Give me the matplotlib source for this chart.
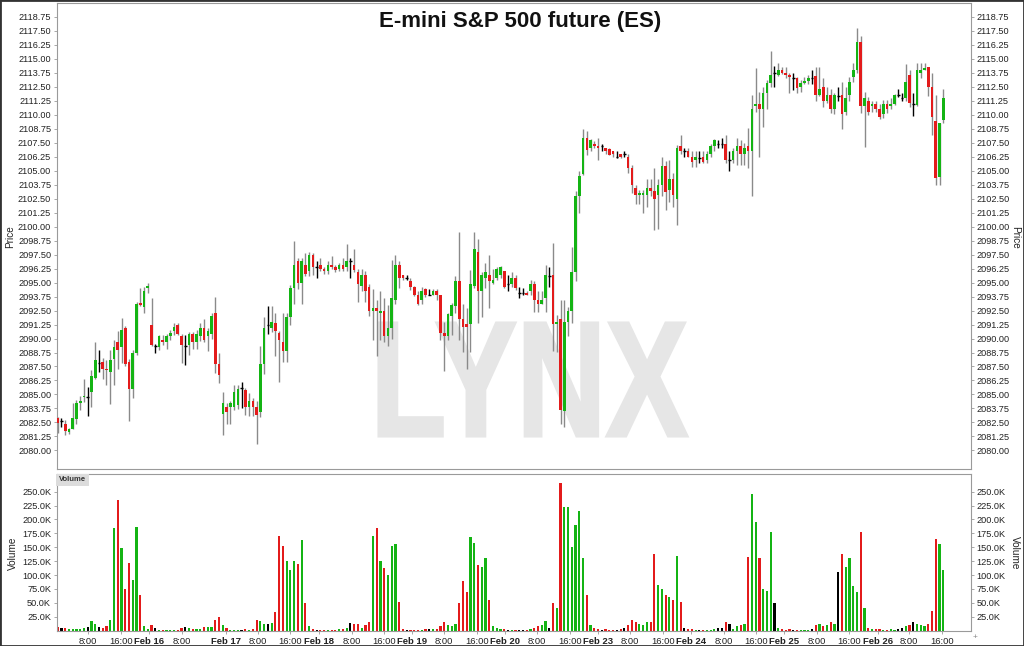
import matplotlib
matplotlib.use('Agg')
import matplotlib.pyplot as plt
import numpy as np
from matplotlib.patches import Rectangle, PathPatch
from matplotlib.textpath import TextPath
from matplotlib.font_manager import FontProperties
from matplotlib.transforms import Affine2D
from matplotlib.ticker import FuncFormatter, FixedLocator

plt.rcParams['font.family'] = ['Liberation Sans', 'DejaVu Sans']

# ---------------- data (hourly bars) ----------------
opens = [
    2082.9, 2082.6, 2082.4, 2081.65, 2081.9, 2082.8, 2084.2, 2084.75, 2084.8, 2085.2,
    2086.45, 2087.85, 2087.9, 2087.3, 2087.0, 2088.2, 2089.7, 2089.2, 2090.9, 2087.9,
    2085.5, 2088.75, 2093.15, 2092.8, 2094.5, 2091.2, 2089.3, 2089.2, 2089.9, 2089.7,
    2090.2, 2090.7, 2091.2, 2090.2, 2089.3, 2089.4, 2090.4, 2089.7, 2090.2, 2090.9,
    2090.2, 2090.4, 2092.25, 2087.7, 2083.3, 2083.9, 2083.9, 2083.9, 2084.05, 2085.6,
    2085.4, 2083.9, 2084.4, 2083.9, 2083.4, 2087.7, 2091.2, 2090.9, 2091.4, 2090.5,
    2089.7, 2088.9, 2091.95, 2094.5, 2096.9, 2095.0, 2096.6, 2096.0, 2097.45, 2096.4,
    2096.6, 2096.2, 2096.0, 2096.6, 2096.4, 2096.2, 2096.6, 2096.4, 2096.9, 2096.6,
    2095.9, 2094.7, 2095.7, 2094.6, 2092.45, 2092.7, 2092.25, 2092.45, 2090.25, 2090.9,
    2093.4, 2096.6, 2095.7, 2095.4, 2095.1, 2094.6, 2093.9, 2093.4, 2094.4, 2093.9,
    2093.9, 2094.2, 2093.9, 2090.45, 2090.25, 2092.0, 2092.9, 2095.1, 2091.7, 2091.3,
    2091.3, 2094.7, 2097.7, 2094.2, 2095.4, 2095.7, 2095.0, 2095.4, 2095.7, 2096.0,
    2094.9, 2094.9, 2095.4, 2094.1, 2094.1, 2094.1, 2094.2, 2094.9, 2093.4, 2093.1,
    2093.65, 2095.6, 2095.7, 2091.3, 2091.75, 2083.5, 2091.45, 2092.5, 2095.97, 2102.7,
    2104.7, 2107.9, 2107.0, 2107.4, 2107.2, 2107.2, 2106.98, 2106.9, 2106.75, 2106.2,
    2106.45, 2106.45, 2106.2, 2105.25, 2103.4, 2102.8, 2102.8, 2102.8, 2103.4, 2103.2,
    2102.8, 2103.7, 2105.4, 2103.3, 2104.25, 2102.5, 2107.2, 2106.75, 2106.75, 2106.2,
    2105.95, 2106.15, 2106.25, 2105.95, 2106.45, 2107.2, 2107.4, 2107.4, 2107.4, 2105.95,
    2105.95, 2106.75, 2107.2, 2106.45, 2107.2, 2106.77, 2110.76, 2110.94, 2110.46, 2111.95,
    2112.8, 2113.7, 2113.53, 2113.98, 2113.74, 2113.53, 2113.23, 2113.23, 2112.49, 2112.79,
    2113.02, 2113.23, 2113.44, 2111.74, 2112.49, 2111.24, 2111.74, 2110.46, 2111.65, 2111.74,
    2110.26, 2111.74, 2113.32, 2113.98, 2116.5, 2110.76, 2111.24, 2110.76, 2110.94, 2110.46,
    2110.05, 2110.94, 2110.76, 2110.94, 2111.74, 2111.45, 2111.45, 2113.53, 2110.94, 2110.85,
    2113.74, 2113.98, 2114.21, 2112.49, 2109.45, 2104.45, 2109.51,
]
highs = [
    2083.0, 2082.9, 2082.7, 2082.0, 2084.2, 2084.5, 2084.9, 2086.4, 2085.7, 2087.2,
    2089.7, 2089.0, 2088.3, 2088.1, 2089.0, 2089.9, 2090.7, 2091.8, 2091.1, 2088.2,
    2089.0, 2093.3, 2094.5, 2094.6, 2095.0, 2093.6, 2089.5, 2090.3, 2090.3, 2090.4,
    2090.8, 2091.4, 2091.4, 2090.4, 2090.3, 2090.6, 2090.6, 2090.8, 2091.4, 2091.7,
    2090.9, 2092.25, 2093.7, 2088.7, 2085.2, 2084.2, 2084.4, 2085.85, 2085.85, 2086.15,
    2085.55, 2085.1, 2084.7, 2084.4, 2089.3, 2091.95, 2092.9, 2092.9, 2092.25, 2090.7,
    2092.25, 2092.25, 2094.8, 2098.7, 2097.2, 2097.2, 2097.6, 2097.7, 2097.6, 2096.9,
    2097.2, 2096.4, 2096.9, 2097.4, 2096.6, 2096.7, 2097.2, 2098.4, 2097.2, 2098.0,
    2096.2, 2096.2, 2096.0, 2094.9, 2094.4, 2093.4, 2094.2, 2093.6, 2093.0, 2097.0,
    2097.45, 2096.9, 2095.7, 2095.65, 2095.4, 2094.7, 2094.2, 2094.6, 2094.5, 2094.4,
    2094.4, 2094.4, 2093.9, 2091.5, 2092.3, 2093.2, 2095.6, 2099.5, 2093.1, 2092.7,
    2096.1, 2099.5, 2098.9, 2095.95, 2096.7, 2097.45, 2096.2, 2096.4, 2096.5, 2096.0,
    2095.7, 2095.97, 2095.7, 2094.6, 2094.5, 2094.2, 2095.2, 2095.1, 2094.2, 2094.2,
    2096.6, 2096.4, 2098.5, 2092.1, 2093.4, 2093.4, 2092.85, 2098.2, 2103.2, 2104.96,
    2108.7, 2108.5, 2107.8, 2107.6, 2107.9, 2107.4, 2106.98, 2106.98, 2106.75, 2106.7,
    2106.45, 2106.75, 2106.45, 2105.5, 2103.7, 2103.3, 2103.3, 2104.25, 2104.25, 2105.25,
    2104.25, 2106.2, 2105.85, 2105.9, 2104.75, 2107.3, 2108.2, 2106.98, 2106.98, 2106.7,
    2106.7, 2106.7, 2106.7, 2106.7, 2107.4, 2107.8, 2107.7, 2107.9, 2108.2, 2106.75,
    2106.98, 2107.9, 2107.7, 2107.5, 2108.77, 2111.74, 2114.2, 2112.04, 2112.5, 2113.1,
    2115.7, 2114.3, 2114.57, 2114.27, 2114.27, 2113.74, 2113.74, 2113.38, 2113.08, 2113.32,
    2113.53, 2113.98, 2114.21, 2114.21, 2113.23, 2112.49, 2112.25, 2111.95, 2112.49, 2112.93,
    2112.49, 2113.38, 2114.63, 2117.7, 2117.0, 2112.04, 2111.54, 2111.24, 2111.24, 2110.94,
    2111.3, 2111.3, 2111.45, 2111.83, 2112.25, 2111.9, 2114.51, 2113.98, 2111.95, 2114.63,
    2114.63, 2114.63, 2114.21, 2113.74, 2111.74, 2109.2, 2112.25,
]
lows = [
    2081.6, 2082.1, 2081.4, 2081.5, 2081.9, 2082.4, 2083.6, 2084.3, 2083.1, 2083.9,
    2086.4, 2087.0, 2086.4, 2085.85, 2084.15, 2085.85, 2087.25, 2087.85, 2087.5, 2082.6,
    2084.7, 2088.5, 2092.9, 2092.3, 2094.1, 2089.3, 2088.7, 2089.0, 2089.4, 2089.1,
    2089.9, 2090.3, 2090.3, 2087.85, 2087.6, 2088.5, 2089.1, 2089.1, 2089.8, 2089.7,
    2088.9, 2090.0, 2086.9, 2086.0, 2081.4, 2082.4, 2082.4, 2083.6, 2083.7, 2083.8,
    2083.2, 2083.1, 2083.1, 2080.6, 2083.0, 2086.8, 2090.4, 2090.6, 2088.4, 2086.15,
    2087.9, 2087.9, 2091.2, 2093.1, 2094.4, 2093.1, 2095.6, 2095.6, 2095.7, 2095.4,
    2096.0, 2095.8, 2095.8, 2096.2, 2095.9, 2096.05, 2096.05, 2096.0, 2095.4, 2095.9,
    2093.3, 2094.2, 2093.3, 2092.0, 2089.9, 2088.4, 2089.9, 2089.65, 2089.35, 2090.0,
    2093.1, 2094.5, 2095.2, 2095.2, 2094.3, 2093.8, 2093.0, 2093.1, 2093.7, 2093.9,
    2093.9, 2093.4, 2089.9, 2087.1, 2089.9, 2090.3, 2092.3, 2089.9, 2088.8, 2087.3,
    2088.8, 2094.5, 2091.35, 2091.9, 2094.5, 2092.7, 2094.9, 2095.2, 2095.4, 2094.5,
    2094.2, 2094.6, 2094.3, 2093.6, 2093.9, 2093.9, 2093.9, 2092.4, 2092.4, 2093.1,
    2092.4, 2094.6, 2088.9, 2088.8, 2082.4, 2082.1, 2090.2, 2091.4, 2095.1, 2101.2,
    2104.6, 2106.4, 2106.7, 2106.98, 2105.9, 2106.75, 2106.5, 2106.4, 2106.2, 2106.1,
    2106.1, 2106.2, 2104.75, 2102.97, 2101.98, 2101.98, 2101.2, 2101.7, 2102.7, 2099.7,
    2099.8, 2102.7, 2101.5, 2102.2, 2101.7, 2100.1, 2106.45, 2106.2, 2106.2, 2105.35,
    2105.35, 2105.65, 2105.7, 2105.7, 2106.25, 2106.7, 2106.98, 2106.98, 2105.65, 2104.96,
    2105.7, 2105.45, 2105.45, 2105.5, 2105.2, 2102.7, 2110.2, 2106.2, 2108.85, 2110.46,
    2112.5, 2112.5, 2113.44, 2113.6, 2113.23, 2111.95, 2112.19, 2111.95, 2112.04, 2112.73,
    2112.73, 2112.73, 2111.24, 2111.65, 2110.7, 2111.05, 2110.17, 2110.05, 2111.24, 2108.68,
    2109.96, 2111.24, 2112.93, 2113.68, 2110.1, 2107.13, 2109.96, 2110.26, 2110.26, 2109.57,
    2109.66, 2110.17, 2110.46, 2110.85, 2111.54, 2111.24, 2111.24, 2110.64, 2109.87, 2110.76,
    2113.23, 2113.98, 2111.65, 2108.17, 2103.71, 2103.71, 2109.2,
]
closes = [
    2082.45, 2082.6, 2081.7, 2081.9, 2082.9, 2084.2, 2084.4, 2084.9, 2084.8, 2086.65,
    2088.1, 2087.85, 2087.25, 2087.2, 2088.1, 2089.2, 2089.0, 2090.8, 2087.7, 2085.5,
    2088.75, 2093.1, 2092.95, 2094.2, 2094.7, 2089.4, 2089.3, 2090.2, 2089.7, 2090.2,
    2090.5, 2091.0, 2090.4, 2089.4, 2089.3, 2090.4, 2089.7, 2090.4, 2090.9, 2089.9,
    2090.7, 2092.0, 2087.7, 2086.75, 2084.2, 2083.4, 2084.2, 2085.2, 2085.5, 2085.6,
    2083.9, 2084.4, 2083.9, 2083.2, 2087.7, 2090.9, 2091.2, 2091.5, 2090.7, 2089.9,
    2088.9, 2091.95, 2094.5, 2096.6, 2095.0, 2096.9, 2095.8, 2097.45, 2096.4, 2096.4,
    2096.2, 2096.0, 2096.6, 2096.4, 2096.1, 2096.6, 2096.2, 2096.9, 2096.9, 2096.1,
    2094.9, 2095.7, 2094.2, 2092.45, 2092.7, 2092.45, 2092.45, 2090.25, 2090.9, 2093.6,
    2096.6, 2095.4, 2095.4, 2095.4, 2094.6, 2093.9, 2093.1, 2094.2, 2093.9, 2093.9,
    2094.2, 2093.9, 2090.45, 2090.25, 2092.15, 2093.0, 2095.1, 2091.7, 2091.0, 2091.0,
    2094.9, 2098.0, 2094.2, 2095.7, 2095.95, 2095.1, 2095.2, 2096.2, 2096.4, 2094.6,
    2094.9, 2095.4, 2094.5, 2094.1, 2094.1, 2093.9, 2094.9, 2093.4, 2093.1, 2093.4,
    2095.7, 2095.6, 2091.3, 2091.45, 2083.6, 2091.45, 2092.5, 2095.97, 2102.7, 2104.5,
    2107.9, 2106.8, 2107.7, 2107.2, 2107.0, 2107.2, 2106.75, 2106.4, 2106.45, 2106.2,
    2106.2, 2106.45, 2105.25, 2103.7, 2102.8, 2102.97, 2102.97, 2103.4, 2103.2, 2102.5,
    2103.7, 2105.4, 2103.05, 2104.25, 2102.8, 2106.98, 2106.75, 2106.75, 2106.2, 2105.8,
    2106.25, 2106.15, 2105.8, 2106.45, 2107.2, 2107.7, 2107.4, 2107.4, 2105.95, 2105.95,
    2106.75, 2107.2, 2106.45, 2106.98, 2106.75, 2110.46, 2110.94, 2110.46, 2111.95, 2112.8,
    2113.5, 2113.7, 2113.98, 2113.74, 2113.53, 2113.32, 2113.23, 2112.34, 2112.79, 2113.02,
    2113.23, 2113.23, 2111.74, 2112.25, 2111.24, 2111.74, 2110.46, 2111.74, 2111.65, 2110.05,
    2111.45, 2112.93, 2113.98, 2116.5, 2110.76, 2111.45, 2110.26, 2110.94, 2110.46, 2109.75,
    2110.94, 2110.46, 2110.94, 2111.74, 2111.74, 2111.45, 2112.93, 2111.0, 2110.94, 2113.98,
    2113.98, 2114.12, 2112.49, 2109.81, 2104.3, 2109.2, 2111.45,
]
volume_k = [
    5.8, 4, 4, 3, 3, 3, 3, 4, 6, 17,
    12, 6, 4, 9, 19, 185, 235, 149, 75, 121,
    92, 186, 65, 9, 3, 10, 4, 1, 1, 1,
    1, 1, 1, 4, 7, 4, 3, 3, 3, 7,
    6, 7, 19, 25, 11, 4, 1, 1, 1, 2,
    3, 1, 3, 20, 18, 12, 12, 13, 34, 170,
    152, 126, 110, 126, 120, 163, 50, 8, 3, 2,
    1, 1, 2, 1, 2, 3, 3, 5, 14, 12,
    12, 5, 10, 15, 170, 184, 125, 113, 100, 152,
    155, 52, 3, 2, 2, 1, 1, 1, 3, 3,
    3, 3, 8, 15, 10, 9, 12, 50, 90, 70,
    168, 158, 118, 115, 130, 55, 8, 4, 3, 3,
    2, 2, 1, 1, 2, 1, 3, 5, 8, 10,
    18, 5, 50, 40, 265, 222, 222, 150, 190, 215,
    130, 65, 10, 4, 3, 2, 3, 2, 1, 2,
    3, 4, 10, 20, 15, 12, 10, 15, 15, 138,
    83, 75, 65, 60, 55, 135, 52, 5, 3, 3,
    2, 2, 1, 2, 2, 3, 4, 5, 15, 12,
    3, 8, 10, 12, 133, 245, 195, 130, 75, 72,
    178, 50, 5, 3, 2, 3, 2, 2, 1, 2,
    2, 3, 10, 12, 8, 10, 15, 12, 105, 137,
    115, 130, 80, 70, 178, 40, 5, 3, 3, 3,
    2, 2, 3, 2, 3, 4, 8, 10, 15, 12,
    10, 8, 12, 35, 165, 155, 110,
]
time_tick_pos = [8.1, 16.9, 24.3, 33.1, 44.8, 53.4, 61.9, 69.6, 78.4, 86.9, 94.4, 102.9,
                 111.7, 119.2, 127.7, 136.5, 143.9, 152.4, 161.2, 168.7, 177.5, 186.0,
                 193.5, 202.3, 210.8, 218.5, 226.8, 235.6]
time_tick_labels = ['8:00', '16:00', 'Feb 16', '8:00', 'Feb 17', '8:00', '16:00', 'Feb 18',
                    '8:00', '16:00', 'Feb 19', '8:00', '16:00', 'Feb 20', '8:00', '16:00',
                    'Feb 23', '8:00', '16:00', 'Feb 24', '8:00', '16:00', 'Feb 25', '8:00',
                    '16:00', 'Feb 26', '8:00', '16:00']
price_ticks = list(np.arange(2080.0, 2118.76, 1.25))
volume_ticks_k = [25, 50, 75, 100, 125, 150, 175, 200, 225, 250]
title = 'E-mini S&P 500 future (ES)'

n = len(opens)
assert len(highs) == n and len(lows) == n and len(closes) == n and len(volume_k) == n

GREEN = '#14b414'
RED = '#e31b1b'
WICK = '#8a8a8a'
SPINE = '#9a9a9a'
TXT = '#222222'

fig = plt.figure(figsize=(10.24, 6.46), dpi=100)
W, H = 1024, 646

ax = fig.add_axes([56.7 / W, 1 - 469.3 / H, (970.7 - 56.7) / W, (469.3 - 3) / H])
axv = fig.add_axes([56.7 / W, 1 - 630.7 / H, (970.7 - 56.7) / W, (630.7 - 474) / H])

x = np.arange(n)
o = np.array(opens); h = np.array(highs); l = np.array(lows); c = np.array(closes)
up = c > o
down = c < o
doji = ~(up | down)

# watermark
fp = FontProperties(family='Liberation Sans', weight='bold')
tp = TextPath((0, 0), 'LYNX', size=100, prop=fp)
ext = tp.get_extents()
bx0, bx1 = 379 / W, 687 / W
by0, by1 = 1 - 436 / H, 1 - 323 / H
tr = (Affine2D().translate(-ext.x0, -ext.y0)
      .scale((bx1 - bx0) / ext.width, (by1 - by0) / ext.height)
      .translate(bx0, by0) + fig.transFigure)
ax.add_patch(PathPatch(tp, transform=tr, facecolor='#e6e6e6', edgecolor='#e6e6e6',
                       lw=2.2, zorder=0))

# candles
bw = 0.7
ax.vlines(x[~doji], l[~doji], h[~doji], color=WICK, lw=1.0, zorder=2)
ax.vlines(x[doji], l[doji], h[doji], color='black', lw=1.0, zorder=2)
body_low = np.minimum(o, c)
body_h = np.maximum(np.abs(c - o), 0.09)
ax.bar(x[up], body_h[up], bottom=body_low[up], width=bw, color=GREEN, lw=0, zorder=3)
ax.bar(x[down], body_h[down], bottom=body_low[down], width=bw, color=RED, lw=0, zorder=3)
ax.hlines(o[doji], x[doji] - bw / 2, x[doji] + bw / 2, color='black', lw=1.0, zorder=3)

xmin, xmax = -0.27, 243.3
ax.set_xlim(xmin, xmax)
ax.set_ylim(2078.32, 2119.96)
ax.yaxis.set_major_locator(FixedLocator(price_ticks))
ax.yaxis.set_major_formatter(FuncFormatter(lambda v, p: f'{v:.2f}'))
ax.tick_params(axis='y', which='both', left=True, right=True, labelleft=True, labelright=True,
               labelsize=6.6, length=2.5, width=0.6, color=SPINE, pad=1.5, labelcolor=TXT)
ax.set_xticks([])
for s in ax.spines.values():
    s.set_color(SPINE)
    s.set_linewidth(0.8)

# volume
vcol = np.where(up, GREEN, np.where(down, RED, 'black'))
axv.bar(x, np.array(volume_k) * 1000, width=0.58, color=vcol, lw=0, zorder=2)
axv.set_xlim(xmin, xmax)
axv.set_ylim(0, 281700)
axv.yaxis.set_major_locator(FixedLocator([v * 1000 for v in volume_ticks_k]))
axv.yaxis.set_major_formatter(FuncFormatter(lambda v, p: f'{v / 1000:.1f}K'))
axv.tick_params(axis='y', left=True, right=True, labelleft=True, labelright=True,
                labelsize=6.6, length=2.5, width=0.6, color=SPINE, pad=1.5, labelcolor=TXT)
axv.set_xticks(time_tick_pos)
axv.set_xticklabels(time_tick_labels)
axv.tick_params(axis='x', labelsize=6.8, length=2, width=0.6, color=SPINE, pad=2.5, labelcolor=TXT)
for lab in axv.get_xticklabels():
    if lab.get_text().startswith('Feb'):
        lab.set_fontweight('bold')
for s in axv.spines.values():
    s.set_color(SPINE)
    s.set_linewidth(0.8)

# "Volume" tag box
axv.text(0.0025, 0.985, 'Volume', transform=axv.transAxes, ha='left', va='top',
         fontsize=5.5, fontweight='bold', color='#333333',
         bbox=dict(boxstyle='square,pad=0.35', facecolor='#dcdcdc', edgecolor='none'))

# titles and labels
fig.text(520 / W, 1 - 22 / H, title, ha='center', va='center', fontsize=16,
         fontweight='bold', color='#111111')
fig.text(10 / W, 1 - 237 / H, 'Price', rotation=90, ha='center', va='center',
         fontsize=7.2, color=TXT)
fig.text(1015 / W, 1 - 237 / H, 'Price', rotation=270, ha='center', va='center',
         fontsize=7.2, color=TXT)
fig.text(13 / W, 1 - 553 / H, 'Volume', rotation=90, ha='center', va='center',
         fontsize=7.2, color=TXT)
fig.text(1015 / W, 1 - 553 / H, 'Volume', rotation=270, ha='center', va='center',
         fontsize=7.2, color=TXT)
fig.text(975 / W, 1 - 637 / H, '+', ha='center', va='center', fontsize=6, color='#888888')

# outer frame
fig.patches.append(Rectangle((0, 0), 1, 1, transform=fig.transFigure, fill=False,
                             edgecolor='#333333', lw=2.0))

fig.savefig('out.png', dpi=100)
